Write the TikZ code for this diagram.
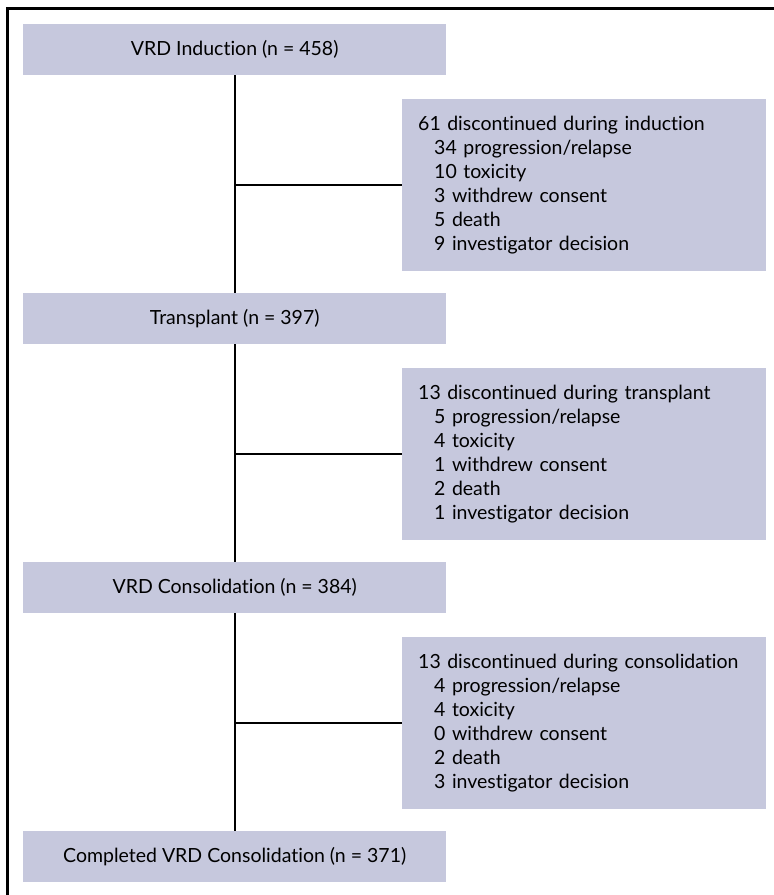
\documentclass[tikz,border=0pt]{standalone}
\usepackage{fontspec}
\setmainfont{Lato}[Ligatures=CommonOff]
\definecolor{boxfill}{RGB}{198,200,221}
\begin{document}
\begin{tikzpicture}[x=1pt,y=-1pt,
  mainbox/.style={fill=boxfill, draw=none, minimum width=423pt, minimum height=51pt, inner sep=0pt, font=\fontsize{19.5}{24}\selectfont, anchor=north west},
  sidebox/.style={fill=boxfill, draw=none, minimum width=364pt, minimum height=172pt, inner xsep=16pt, inner ysep=0pt, text width=332pt, align=left, font=\fontsize{19.5}{24}\selectfont, anchor=north west},
  conn/.style={line width=2.2pt, black},
  frameline/.style={line width=3pt, black}]
\useasboundingbox (0,0) rectangle (774,895);
\coordinate (ftl) at (7,8);
\coordinate (ftr) at (774,8);
\coordinate (fbl) at (7,895);
\draw[frameline] (fbl) -- (ftl) -- (ftr);

\node[mainbox] (b1) at (23,24) {VRD Induction (n = 458)};
\node[mainbox] (b2) at (23,293) {Transplant (n = 397)};
\node[mainbox] (b3) at (23,562) {VRD Consolidation (n = 384)};
\node[mainbox] (b4) at (23,831) {Completed VRD Consolidation (n = 371)};

\node[sidebox] (s1) at (402,99) {61 discontinued during induction\\
\hspace*{16pt}34 progression/relapse\\
\hspace*{16pt}10 toxicity\\
\hspace*{16pt}3 withdrew consent\\
\hspace*{16pt}5 death\\
\hspace*{16pt}9 investigator decision};
\node[sidebox] (s2) at (402,368) {13 discontinued during transplant\\
\hspace*{16pt}5 progression/relapse\\
\hspace*{16pt}4 toxicity\\
\hspace*{16pt}1 withdrew consent\\
\hspace*{16pt}2 death\\
\hspace*{16pt}1 investigator decision};
\node[sidebox] (s3) at (402,637) {13 discontinued during consolidation\\
\hspace*{16pt}4 progression/relapse\\
\hspace*{16pt}4 toxicity\\
\hspace*{16pt}0 withdrew consent\\
\hspace*{16pt}2 death\\
\hspace*{16pt}3 investigator decision};

\draw[conn] (b1.south) -- (b2.north);
\draw[conn] (b2.south) -- (b3.north);
\draw[conn] (b3.south) -- (b4.north);
\draw[conn] (s1.west -| b1.south) -- (s1.west);
\draw[conn] (s2.west -| b2.south) -- (s2.west);
\draw[conn] (s3.west -| b3.south) -- (s3.west);
\end{tikzpicture}
\end{document}
